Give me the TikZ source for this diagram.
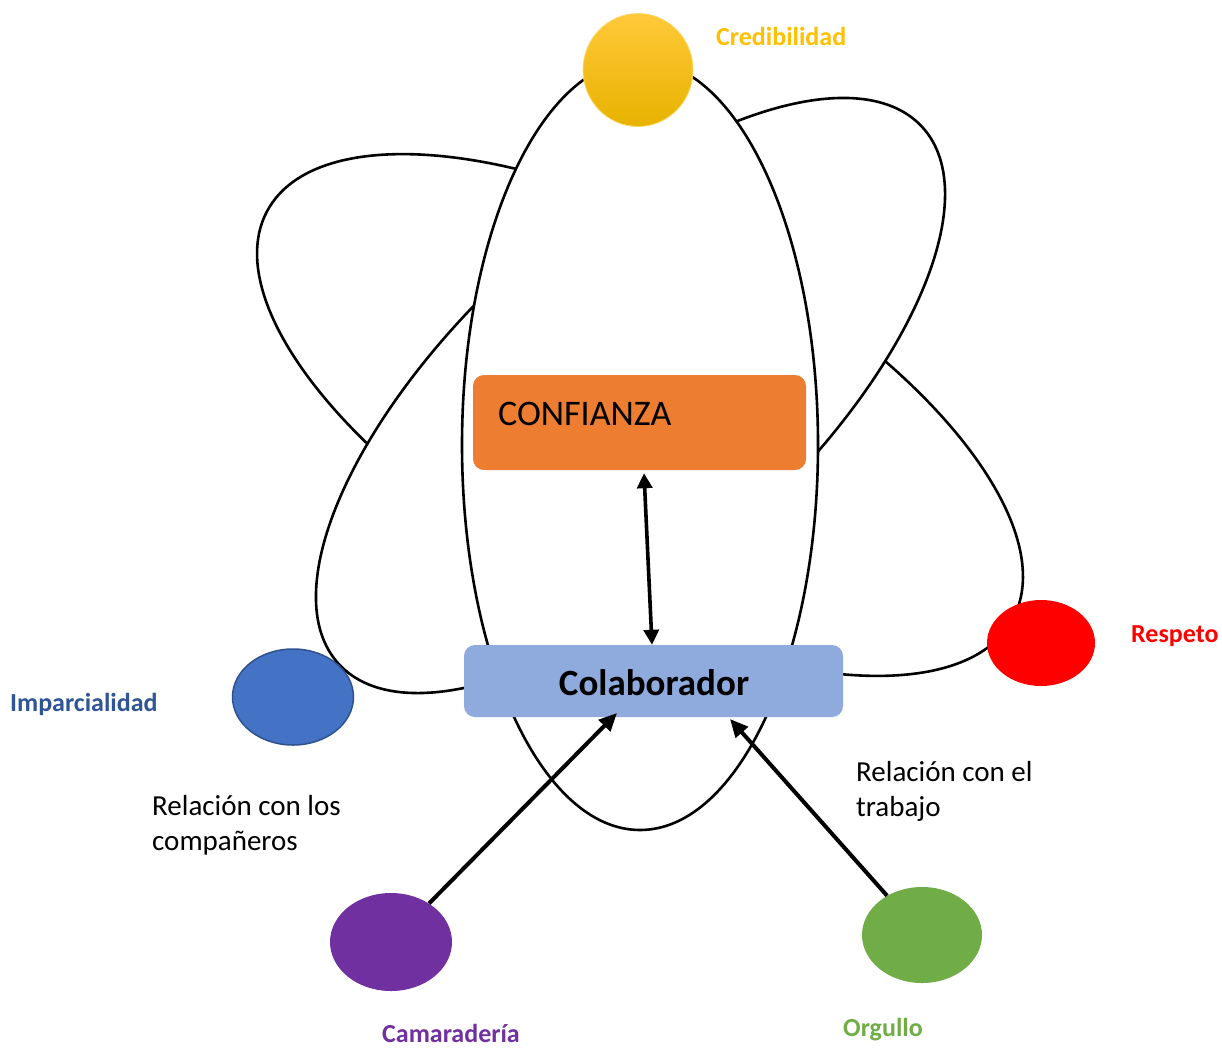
\documentclass[tikz,border=0pt]{standalone}
\usepackage{fontspec}
\setmainfont{Carlito}
\usetikzlibrary{arrows.meta,shapes.geometric}
\definecolor{corange}{HTML}{ED7D31}
\definecolor{cboxblue}{HTML}{8FAADC}
\definecolor{cblue}{HTML}{4472C4}
\definecolor{cblueborder}{HTML}{2F528F}
\definecolor{cbluetext}{HTML}{2F5597}
\definecolor{cpurple}{HTML}{7030A0}
\definecolor{cgreen}{HTML}{70AD47}
\definecolor{cred}{HTML}{FF0000}
\definecolor{cgold}{HTML}{FFC000}
\definecolor{cgoldtop}{HTML}{FFC93A}
\definecolor{cgoldbot}{HTML}{E8B200}
\begin{document}
\begin{tikzpicture}[x=1pt,y=-1pt,
  orbit/.style={draw=black,line width=2.6pt,fill=white},
  dot/.style={ellipse,inner sep=0pt},
  box/.style={rectangle,rounded corners=11pt,inner sep=0pt},
  lbl/.style={font=\fontsize{26}{30}\selectfont\bfseries,inner sep=0pt,anchor=base west},
  note/.style={font=\fontsize{29}{35}\selectfont,inner sep=0pt,align=left,anchor=base west},
  arr/.style={line width=4pt,-{Triangle[length=18pt,width=16pt]}},
  darr/.style={line width=3.6pt,{Triangle[length=15pt,width=15pt]}-{Triangle[length=15pt,width=15pt]}}]
\useasboundingbox (0,0) rectangle (1222,1047);
\fill[white] (0,0) rectangle (1222,1047);
% orbits (filled white, stacked)
\draw[orbit,rotate around={-28.8:(640,415)}] (640,415) ellipse [x radius=425, y radius=184.5];
\draw[orbit,rotate around={42.65:(630.5,395.5)}] (630.5,395.5) ellipse [x radius=396.5, y radius=173.8];
\draw[orbit] (640,445) ellipse [x radius=178, y radius=385];
% circles
\node[dot,minimum width=110pt,minimum height=113pt,top color=cgoldtop,middle color=cgold,bottom color=cgoldbot,draw=cgold!60,line width=0.8pt] (credc) at (638,70) {};
\node[dot,minimum width=121pt,minimum height=96pt,fill=cblue,draw=cblueborder,line width=1.5pt] (impc) at (293,697) {};
\node[dot,minimum width=108pt,minimum height=86pt,fill=cred] (respc) at (1041,643) {};
\node[dot,minimum width=122pt,minimum height=98pt,fill=cpurple] (camc) at (391,942) {};
\node[dot,minimum width=120pt,minimum height=96pt,fill=cgreen] (orgc) at (922,935) {};
% boxes
\node[box,fill=corange,minimum width=333pt,minimum height=95pt] (conf) at (639.5,422.5) {};
\node[font=\fontsize{36}{40}\selectfont,inner sep=0pt,anchor=base west] (conftext) at (498,425) {CONFIANZA};
\node[box,fill=cboxblue,minimum width=379pt,minimum height=72pt] (colab) at (653.5,681) {};
\node[font=\fontsize{37}{40}\selectfont\bfseries,inner sep=0pt,anchor=base] (colabtext) at (654,695) {Colaborador};
% labels
\node[lbl,text=cgold] (credl) at (716,45) {Credibilidad};
\node[lbl,text=cbluetext] (impl) at (10,711) {Imparcialidad};
\node[lbl,text=cred] (respl) at (1131,642) {Respeto};
\node[lbl,text=cpurple] (caml) at (382,1042) {Camaradería};
\node[lbl,text=cgreen] (orgl) at (843,1036) {Orgullo};
\node[note] (relcomp) at (152,850) {Relación con los\\compañeros};
\node[note] (reltrab) at (856,816) {Relación con el\\trabajo};
% arrows
\coordinate (colabin1) at (617,713);
\coordinate (colabin2) at (730,719);
\draw[arr] (camc) -- (colabin1);
\draw[arr] (orgc) -- (colabin2);
\draw[darr] ([xshift=4.5pt,yshift=-3pt]conf.south) -- ([xshift=-1.5pt]colab.north);
\end{tikzpicture}
\end{document}
